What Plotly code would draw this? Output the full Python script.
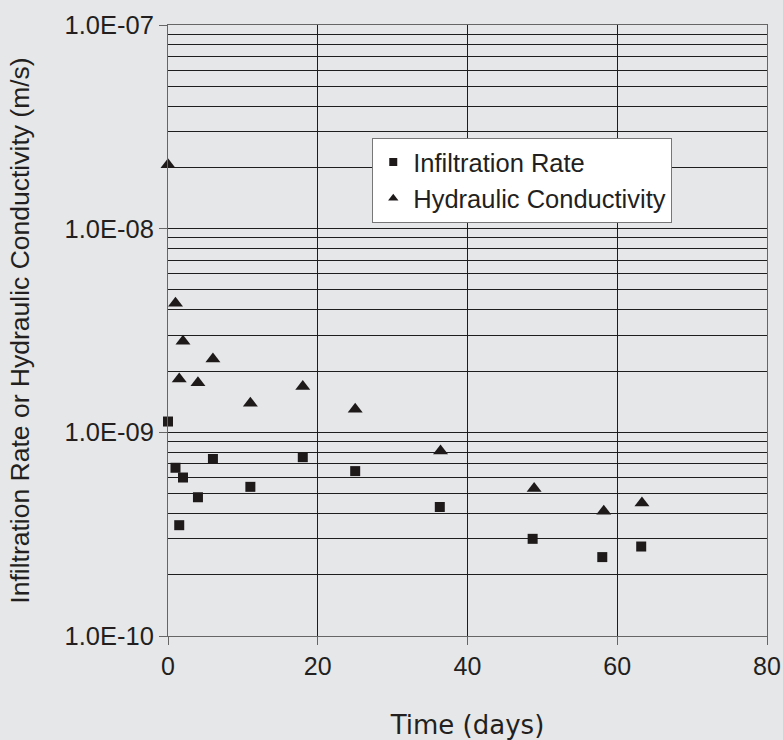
import plotly.graph_objects as go

# Data
time_infil = [0, 1, 1.5, 2, 4, 6, 11, 18, 25, 36.3, 48.7, 58, 63.2]
infiltration_rate = [1.13e-9, 6.7e-10, 3.5e-10, 6.0e-10, 4.8e-10, 7.4e-10, 5.4e-10,
                     7.55e-10, 6.45e-10, 4.3e-10, 3.0e-10, 2.44e-10, 2.75e-10]

time_hydr = [0, 1, 1.5, 2, 4, 6, 11, 18, 25, 36.4, 48.9, 58.2, 63.3]
hydraulic_conductivity = [2.06e-8, 4.3e-9, 1.83e-9, 2.8e-9, 1.75e-9, 2.29e-9, 1.39e-9,
                          1.68e-9, 1.30e-9, 8.1e-10, 5.3e-10, 4.1e-10, 4.5e-10]

x_ticks = [0, 20, 40, 60, 80]
y_ticks = [1e-10, 1e-9, 1e-8, 1e-7]
y_tick_labels = ["1.0E-10", "1.0E-09", "1.0E-08", "1.0E-07"]
y_minor = [k * d for d in [1e-10, 1e-9, 1e-8] for k in range(2, 10)]

FONT = "Liberation Sans, Arial, sans-serif"
BG = "#e6e7e9"
GRID = "#1e1e1e"
MARK = "#1e1a1a"

fig = go.Figure()
fig.add_trace(go.Scatter(x=time_infil, y=infiltration_rate, mode="markers",
                         marker=dict(symbol="square", size=10, color=MARK),
                         showlegend=False, cliponaxis=False))
fig.add_trace(go.Scatter(x=time_hydr, y=hydraulic_conductivity, mode="markers",
                         marker=dict(symbol="triangle-up", size=13, color=MARK),
                         showlegend=False, cliponaxis=False))
# legend entries (smaller symbols as in the reference)
fig.add_trace(go.Scatter(x=[None], y=[None], mode="markers", name="Infiltration Rate",
                         legendgroup="a",
                         marker=dict(symbol="square", size=8, color=MARK)))
fig.add_trace(go.Scatter(x=[None], y=[None], mode="markers", name="Hydraulic Conductivity",
                         legendgroup="b",
                         marker=dict(symbol="triangle-up", size=9, color=MARK)))

fig.update_layout(
    width=783, height=740,
    margin=dict(l=168, r=16, t=25, b=104, autoexpand=False),
    paper_bgcolor=BG, plot_bgcolor=BG,
    font=dict(family=FONT, size=26, color="#231f20"),
    legend=dict(x=0.341, y=0.815, xanchor="left", yanchor="top",
                bgcolor="white", bordercolor="#777", borderwidth=1,
                font=dict(size=25.5), itemwidth=30, tracegroupgap=9,
                traceorder="normal"),
    xaxis=dict(range=[0, 80], tickvals=x_ticks, showgrid=True, gridcolor=GRID, gridwidth=1,
               showline=True, linecolor="#666", linewidth=1, mirror=True,
               ticks="outside", ticklen=8, tickcolor="#666", zeroline=False,
               tickfont=dict(size=25), automargin=False,
               title=dict(text="Time (days)", font=dict(family="DejaVu Sans", size=26),
                          standoff=39)),
    yaxis=dict(type="log", range=[-10, -7], tickvals=y_ticks, ticktext=y_tick_labels,
               showgrid=True, gridcolor=GRID, gridwidth=1,
               minor=dict(tickvals=y_minor, showgrid=True, gridcolor=GRID, gridwidth=1,
                          ticks=""),
               showline=True, linecolor="#666", linewidth=1, mirror=True,
               ticks="outside", ticklen=8, tickcolor="#666",
               tickfont=dict(size=25.5), automargin=False,
               title=dict(text="Infiltration Rate or Hydraulic Conductivity (m/s)",
                          font=dict(size=26.5), standoff=27)),
)

fig.write_html("out.html")
